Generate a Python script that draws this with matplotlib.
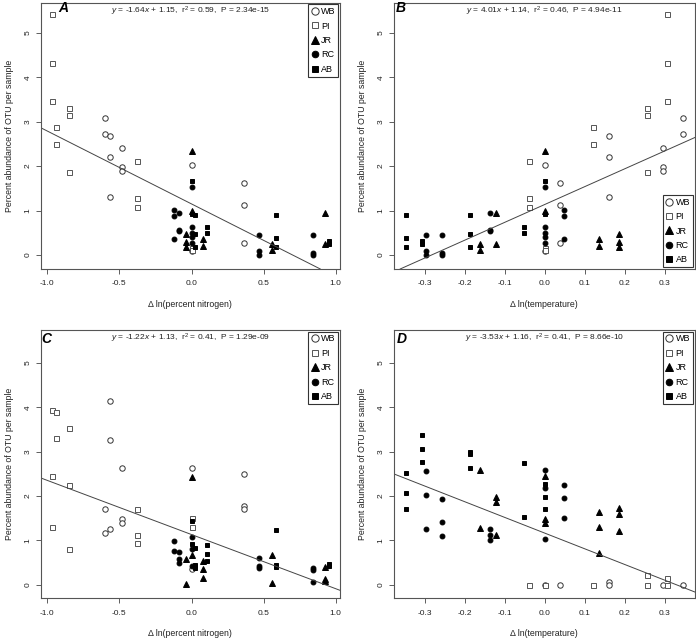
import matplotlib
matplotlib.use('Agg')
import matplotlib.pyplot as plt
from matplotlib.lines import Line2D

plt.rcParams['font.family'] = ['Liberation Sans', 'DejaVu Sans']
plt.rcParams['mathtext.fontset'] = 'custom'
plt.rcParams['mathtext.rm'] = 'Liberation Sans'
plt.rcParams['mathtext.it'] = 'Liberation Sans:italic'
plt.rcParams['axes.unicode_minus'] = False

# sampling groups per site: change in ln(N) and ln(T), and OTU abundances per group
sites = ['WB', 'PI', 'JR', 'RC', 'AB']

wb_dn = [-0.60, -0.565, -0.48, 0.0, 0.366]
wb_dt = [0.346, 0.16, 0.296, 0.0, 0.038]
wb_ab = [[3.08, 2.72], [2.68, 2.20, 1.31], [2.41, 1.98, 1.90], [2.03, 0.08], [1.63, 1.13, 0.27]]
wb_c = [[1.70, 1.16], [4.14, 3.27, 1.25], [2.64, 1.47, 1.40], [2.62, 0.35], [2.49, 1.77, 1.70]]
wb_d = [[0.0], [0.05, 0.0], [0.0], [0.0], [0.0]]

pi_dn = [-0.97, -0.94, -0.85, -0.38, 0.0]
pi_dt = [0.306, 0.12, 0.256, -0.041, 0.0]
pi_ab = [[5.42, 4.32, 3.47], [2.88, 2.49], [3.30, 3.15, 1.87], [2.11, 1.28, 1.09], [0.15, 0.11]]
pi_c = [[3.93, 2.46, 1.31], [3.90, 3.31], [3.52, 2.25, 0.80], [1.71, 1.11, 0.93], [1.50, 1.31]]
pi_d = [[0.15, 0.0], [0.0], [0.21, 0.0], [0.0], [0.0]]

jr_dn = [0.0, -0.035, 0.077, 0.556, 0.926]
jr_dt = [0.0, 0.185, 0.135, -0.162, -0.122]
jr_ab = [[2.34, 0.98], [0.48, 0.29, 0.17], [0.36, 0.21], [0.24, 0.11], [0.95, 0.25]]
jr_c = [[2.42, 0.67], [0.58, 0.02], [0.54, 0.35, 0.14], [0.67, 0.03], [0.39, 0.13, 0.09]]
jr_d = [[2.45, 1.47, 1.40], [1.72, 1.59, 1.21], [1.64, 1.29, 0.71], [2.58, 1.27], [1.97, 1.87, 1.13]]

rc_dn = [-0.12, -0.09, 0.0, 0.468, 0.84]
rc_dt = [0.048, -0.137, 0.0, -0.297, -0.257]
rc_ab = [[1.02, 0.87, 0.35], [0.95, 0.57, 0.53], [1.52, 0.62, 0.49, 0.40, 0.28], [0.44, 0.09, 0.0], [0.44, 0.05, 0.0]]
rc_c = [[0.98, 0.75], [0.74, 0.57, 0.50], [1.08, 0.80, 0.41], [0.61, 0.41, 0.37], [0.37, 0.32, 0.07]]
rc_d = [[2.25, 1.95, 1.50], [1.25, 1.12, 1.01], [2.58, 2.18, 1.02], [2.57, 2.02, 1.25], [1.94, 1.42, 1.10]]

ab_dn = [0.0, 0.025, 0.11, 0.584, 0.956]
ab_dt = [0.0, -0.188, -0.052, -0.349, -0.309]
ab_ab = [[1.67, 0.92], [0.90, 0.47, 0.19], [0.63, 0.50], [0.90, 0.39, 0.19], [0.31, 0.24]]
ab_c = [[1.44, 0.92], [0.82, 0.45, 0.38], [0.89, 0.69, 0.54], [1.23, 0.45, 0.40], [0.47, 0.42]]
ab_d = [[2.26, 1.98, 1.70], [2.98, 2.94, 2.64], [2.75, 1.52], [2.52, 2.06, 1.70], [3.37, 3.06, 2.77]]

fit_slope = [-1.64, 4.01, -1.22, -3.53]
fit_intercept = [1.15, 1.14, 1.13, 1.16]
fit_text = ['-1.64$\\it{x}$ + 1.15,  r$^2$ = 0.59,  P = 2.34e-15',
            '4.01$\\it{x}$ + 1.14,  r$^2$ = 0.46,  P = 4.94e-11',
            '-1.22$\\it{x}$ + 1.13,  r$^2$ = 0.41,  P = 1.29e-09',
            '-3.53$\\it{x}$ + 1.16,  r$^2$ = 0.41,  P = 8.66e-10']

site_dn = [wb_dn, pi_dn, jr_dn, rc_dn, ab_dn]
site_dt = [wb_dt, pi_dt, jr_dt, rc_dt, ab_dt]
site_ab = [wb_ab, pi_ab, jr_ab, rc_ab, ab_ab]
site_c = [wb_c, pi_c, jr_c, rc_c, ab_c]
site_d = [wb_d, pi_d, jr_d, rc_d, ab_d]

markers = {'WB': ('o', 'white', '#333333', 3.9),
           'PI': ('s', 'white', '#555555', 3.6),
           'JR': ('^', 'black', 'black', 3.9),
           'RC': ('o', 'black', 'black', 3.5),
           'AB': ('s', 'black', 'black', 3.1)}


def expand(xs, ys):
    px, py = [], []
    for x, vals in zip(xs, ys):
        px += [x] * len(vals)
        py += vals
    return px, py


fig = plt.figure(figsize=(6.96, 6.4), dpi=100)

panels = [
    ([0.0585, 0.5797, 0.4300, 0.4161], site_dn, site_ab, (-1.046, 1.030), (-0.315, 5.68),
     [-1.0, -0.5, 0.0, 0.5, 1.0], '\u0394 ln(percent nitrogen)', 'A', (0.0745, 0.980), 'upper right'),
    ([0.5657, 0.5797, 0.4325, 0.4161], site_dt, site_ab, (-0.379, 0.375), (-0.315, 5.68),
     [-0.3, -0.2, -0.1, 0.0, 0.1, 0.2, 0.3], '\u0394 ln(temperature)', 'B', (0.024, 0.980), 'lower right'),
    ([0.0585, 0.0652, 0.4300, 0.4192], site_dn, site_c, (-1.046, 1.030), (-0.306, 5.74),
     [-1.0, -0.5, 0.0, 0.5, 1.0], '\u0394 ln(percent nitrogen)', 'C', (0.018, 0.966), 'upper right'),
    ([0.5657, 0.0652, 0.4325, 0.4192], site_dt, site_d, (-0.379, 0.375), (-0.306, 5.74),
     [-0.3, -0.2, -0.1, 0.0, 0.1, 0.2, 0.3], '\u0394 ln(temperature)', 'D', (0.026, 0.968), 'upper right'),
]

for i, (pos, xs, ys, xlim, ylim, xticks, xlabel, letter, lpos, loc) in enumerate(panels):
    ax = fig.add_axes(pos)
    for s, sx, sy in zip(sites, xs, ys):
        m, fc, ec, ms = markers[s]
        px, py = expand(sx, sy)
        ax.plot(px, py, linestyle='none', marker=m, markersize=ms,
                markerfacecolor=fc, markeredgecolor=ec, markeredgewidth=0.7)
    ax.axline((0, fit_intercept[i]), slope=fit_slope[i], color='#444444', lw=0.7)
    ax.set_xlim(*xlim)
    ax.set_ylim(*ylim)
    ax.set_xticks(xticks)
    ax.set_xticklabels(['%.1f' % t for t in xticks])
    ax.set_yticks(range(6))
    ax.tick_params(direction='out', length=3.6, width=0.6, color='#444444',
                   labelsize=6, labelcolor='#222222', pad=4.5)
    ax.tick_params(axis='y', labelrotation=90, pad=3)
    for lbl in ax.get_yticklabels():
        lbl.set_va('center')
    for sp in ax.spines.values():
        sp.set_color('#555555')
        sp.set_linewidth(0.8)
    ax.set_xlabel(xlabel, fontsize=6.3, color='#222222')
    ax.xaxis.set_label_coords(0.5, -0.133)
    ax.xaxis.label.set_va('center')
    ax.set_ylabel('Percent abundance of OTU per sample', fontsize=6.3, color='#222222')
    ax.yaxis.set_label_coords(-0.103, 0.5)
    ax.yaxis.label.set_va('center')
    ax.text(lpos[0], lpos[1], letter, transform=ax.transAxes, fontsize=10,
            fontweight='bold', fontstyle='italic', ha='center', va='center')
    ax.text(0.5, 0.969, '$\\it{y}$ = ' + fit_text[i], transform=ax.transAxes,
            fontsize=6, ha='center', va='center', color='#222222')
    handles = []
    for s in sites:
        m, fc, ec, ms = markers[s]
        handles.append(Line2D([], [], linestyle='none', marker=m, markersize=ms * 1.35,
                              markerfacecolor=fc, markeredgecolor=ec, markeredgewidth=0.7))
    leg = ax.legend(handles, sites, loc=loc, fontsize=6.5, frameon=True, fancybox=False,
                    framealpha=1, edgecolor='#333333', borderaxespad=0.2, borderpad=0.3,
                    labelspacing=0.6, handlelength=0.9, handletextpad=0.25)
    leg.get_frame().set_linewidth(0.8)

fig.savefig('out.png', dpi=100)
